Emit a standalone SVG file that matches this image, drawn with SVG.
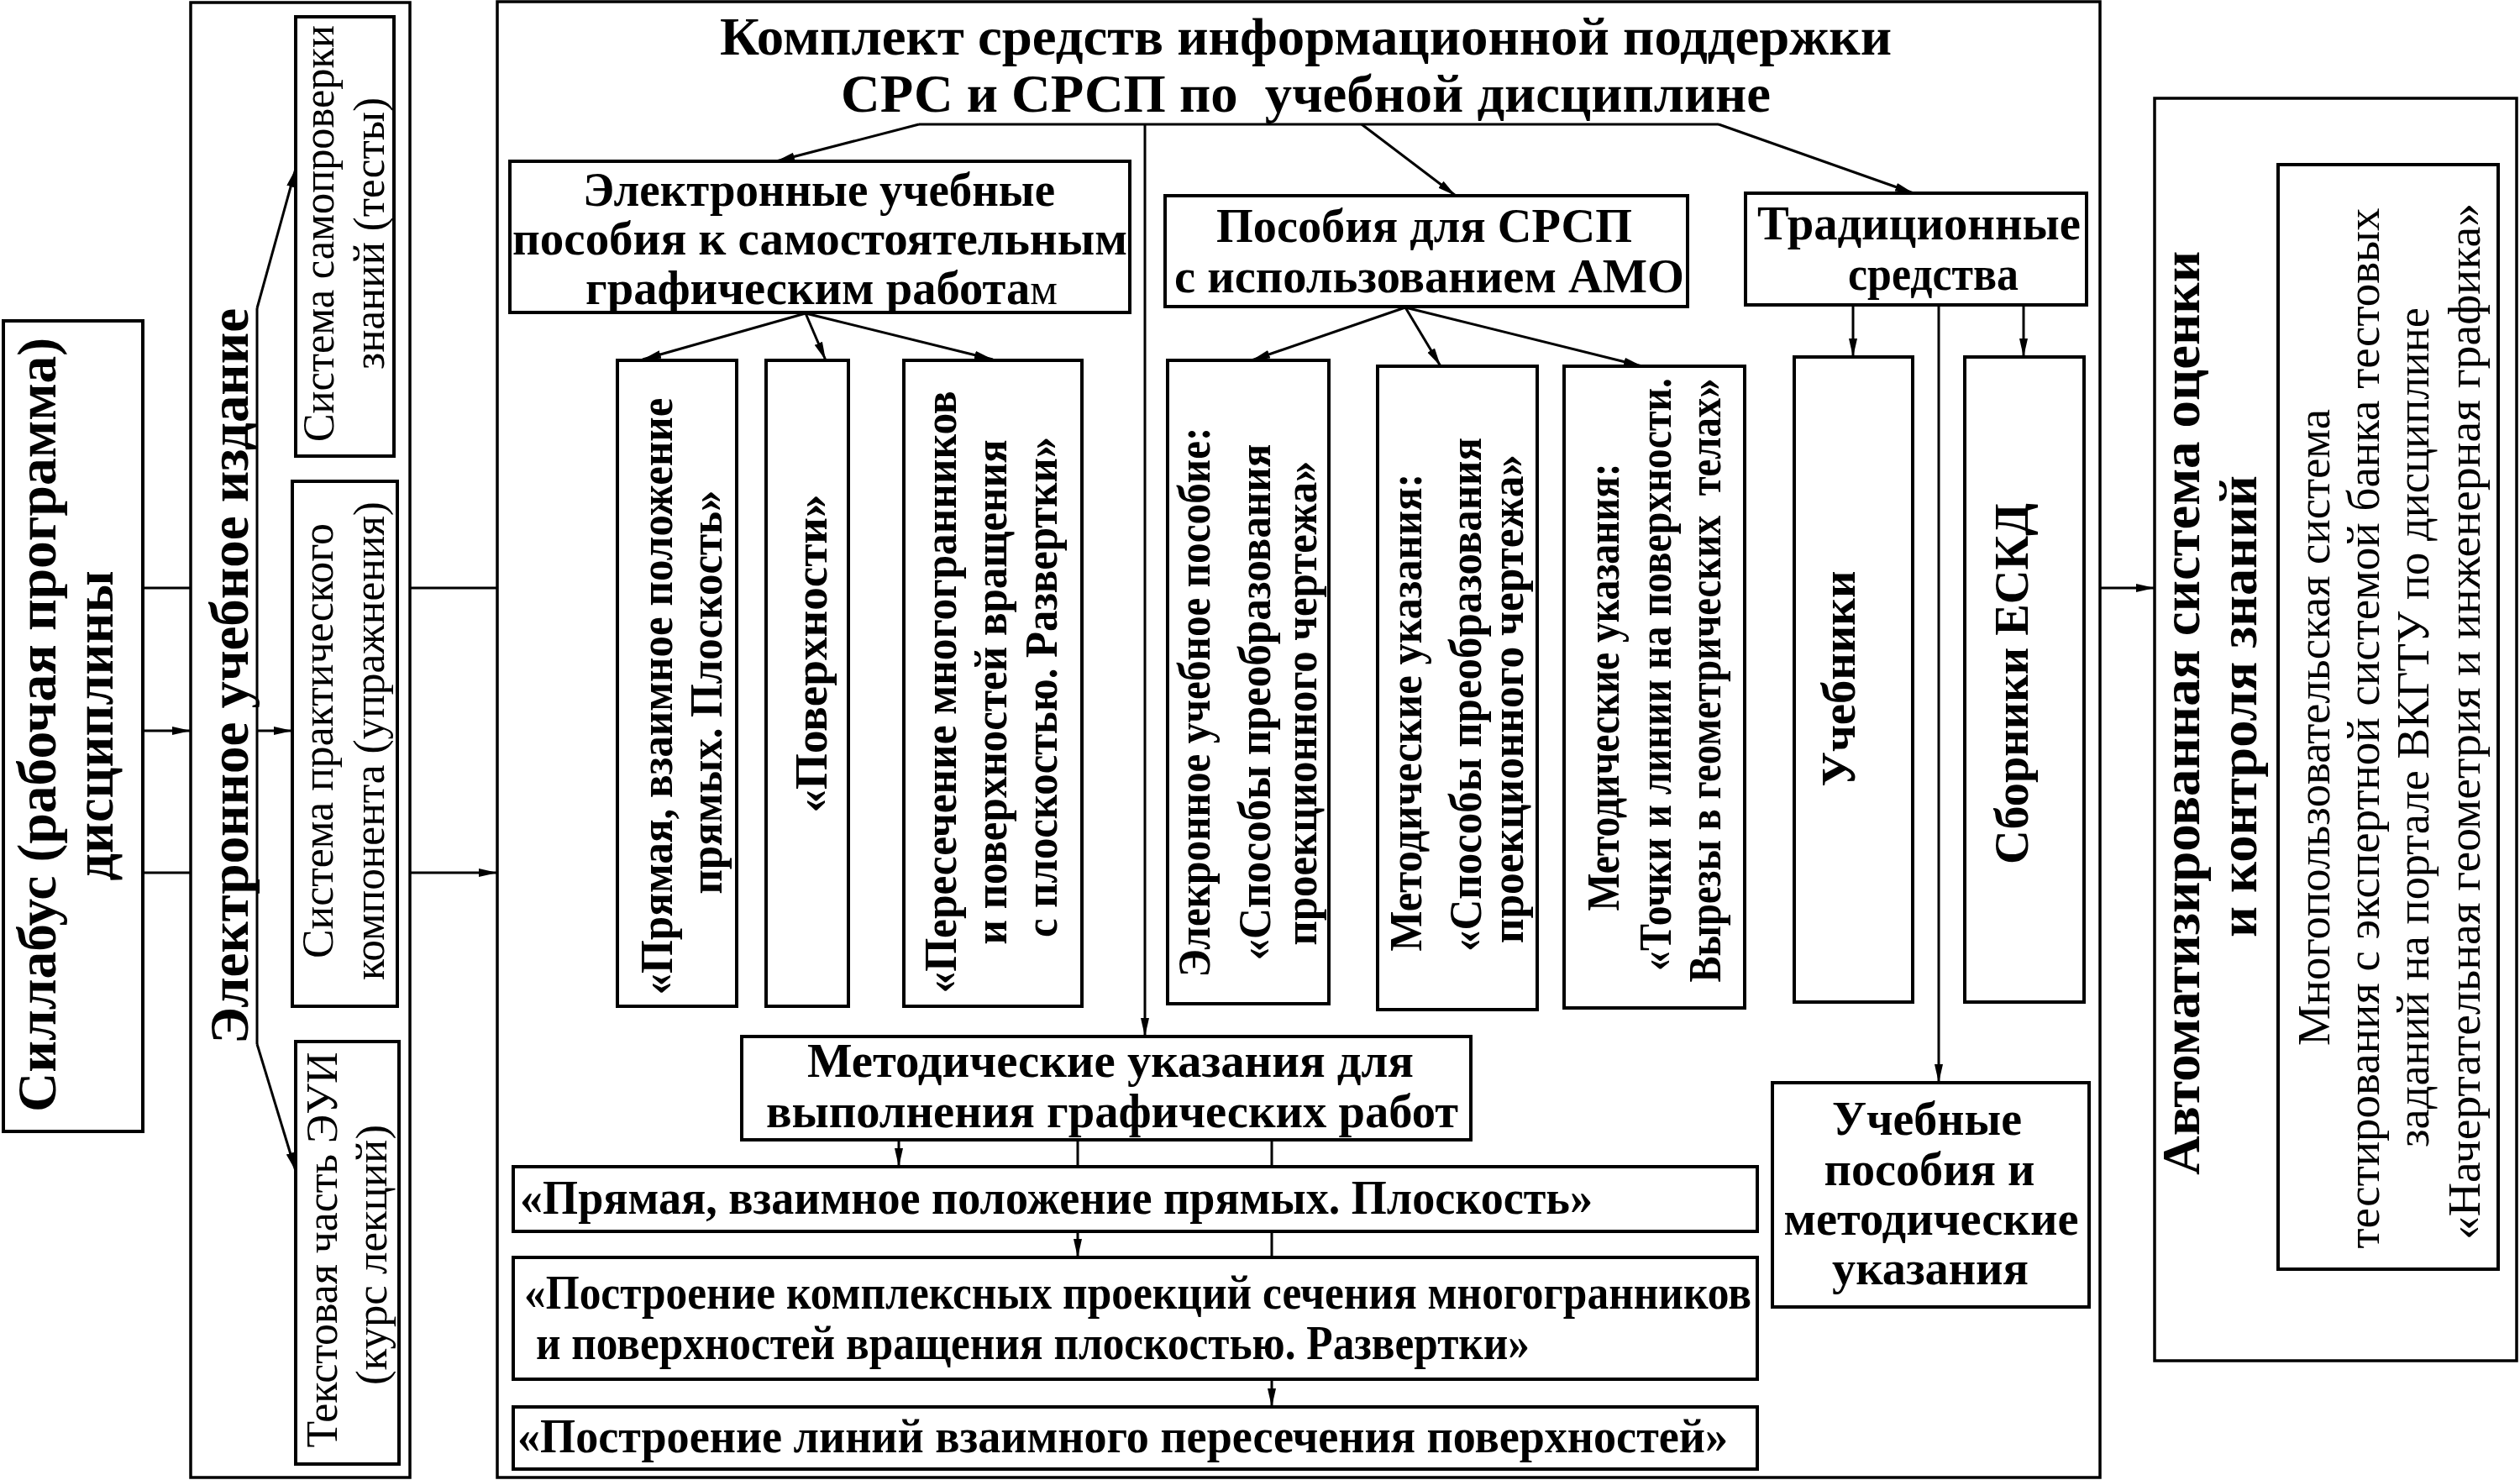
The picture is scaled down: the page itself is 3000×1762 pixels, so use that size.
<svg xmlns="http://www.w3.org/2000/svg" width="3000" height="1762" viewBox="0 0 3000 1762">
<defs>
<style>
.bx{fill:#fff;stroke:#000;stroke-width:4}
.cont{fill:#fff;stroke:#000;stroke-width:3.5}
.ln{fill:none;stroke:#000;stroke-width:3}
.ar{fill:none;stroke:#000;stroke-width:3;marker-end:url(#ah)}
text{font-family:"Liberation Serif","Times New Roman",serif;fill:#000}
.b{font-weight:bold}
.n{font-weight:normal}
.m{text-anchor:middle}
</style>
<marker id="ah" markerUnits="userSpaceOnUse" markerWidth="24" markerHeight="12" refX="22" refY="5" orient="auto">
<path d="M0,0 L22,5 L0,10 Z" fill="#000"/>
</marker>
</defs>
<rect width="3000" height="1762" fill="#fff"/>

<g id="n-syllabus">
<rect class="bx" x="4" y="382" width="166" height="965"/>
<text class="b m" font-size="66" transform="translate(66,863) rotate(-90)" textLength="922" lengthAdjust="spacingAndGlyphs">Силлабус (рабочая программа)</text>
<text class="b m" font-size="66" transform="translate(134,864) rotate(-90)" textLength="369" lengthAdjust="spacingAndGlyphs">дисциплины</text>
</g>

<g id="n-eui">
<rect class="cont" x="227" y="3" width="261" height="1756"/>
<text class="b m" font-size="66" transform="translate(295,805) rotate(-90)" textLength="876" lengthAdjust="spacingAndGlyphs">Электронное учебное издание</text>
</g>

<g id="n-main">
<rect class="cont" x="592" y="2" width="1908" height="1757"/>
<text class="b" font-size="64" x="857" y="65" textLength="1395" lengthAdjust="spacingAndGlyphs">Комплект средств информационной поддержки</text>
<text class="b" font-size="64" x="1001" y="133" textLength="1107" lengthAdjust="spacingAndGlyphs" xml:space="preserve">СРС и СРСП по  учебной дисциплине</text>
</g>

<g id="n-auto">
<rect class="cont" x="2565" y="117" width="431" height="1503"/>
<text class="b m" font-size="64" transform="translate(2618,849) rotate(-90)" textLength="1100" lengthAdjust="spacingAndGlyphs">Автоматизированная система оценки</text>
<text class="b m" font-size="64" transform="translate(2686,841) rotate(-90)" textLength="550" lengthAdjust="spacingAndGlyphs">и контроля знаний</text>
</g>

<g id="connectors">
<line class="ln" x1="170" y1="700" x2="227" y2="700"/>
<line class="ar" x1="170" y1="870" x2="227" y2="870"/>
<line class="ln" x1="170" y1="1039" x2="227" y2="1039"/>
<line class="ln" x1="488" y1="700" x2="592" y2="700"/>
<line class="ar" x1="488" y1="1039" x2="592" y2="1039"/>
<line class="ln" x1="306" y1="367" x2="306" y2="1243"/>
<line class="ar" x1="306" y1="367" x2="352" y2="201"/>
<line class="ar" x1="306" y1="1243" x2="352" y2="1394"/>
<line class="ar" x1="306" y1="870" x2="348" y2="870"/>
<line class="ar" x1="2500" y1="700" x2="2565" y2="700"/>
<line class="ln" x1="1094" y1="148" x2="2046" y2="148"/>
<line class="ar" x1="1094" y1="148" x2="924" y2="192"/>
<line class="ar" x1="1621" y1="148" x2="1733" y2="233"/>
<line class="ar" x1="2046" y1="148" x2="2278" y2="230"/>
<line class="ar" x1="1363" y1="148" x2="1363" y2="1234"/>
<line class="ar" x1="959" y1="373" x2="765" y2="428"/>
<line class="ar" x1="959" y1="373" x2="983" y2="429"/>
<line class="ar" x1="959" y1="373" x2="1182" y2="428"/>
<line class="ar" x1="1673" y1="366" x2="1490" y2="429"/>
<line class="ar" x1="1673" y1="366" x2="1715" y2="436"/>
<line class="ar" x1="1673" y1="366" x2="1955" y2="436"/>
<line class="ar" x1="2206" y1="364" x2="2206" y2="425"/>
<line class="ar" x1="2409" y1="364" x2="2409" y2="425"/>
<line class="ar" x1="2308" y1="364" x2="2308" y2="1289"/>
<line class="ar" x1="1070" y1="1357" x2="1070" y2="1389"/>
<line class="ar" x1="1283" y1="1357" x2="1283" y2="1497"/>
<line class="ar" x1="1514" y1="1357" x2="1514" y2="1675"/>
</g>

<g id="n-tests">
<rect class="bx" x="352" y="20" width="117" height="523"/>
<text class="n m" font-size="52" transform="translate(397,278) rotate(-90)" textLength="496" lengthAdjust="spacingAndGlyphs">Система самопроверки</text>
<text class="n m" font-size="52" transform="translate(457,278) rotate(-90)" textLength="324" lengthAdjust="spacingAndGlyphs">знаний (тесты)</text>
</g>

<g id="n-practice">
<rect class="bx" x="348" y="573" width="125" height="625"/>
<text class="n m" font-size="52" transform="translate(396,882) rotate(-90)" textLength="518" lengthAdjust="spacingAndGlyphs">Система практического</text>
<text class="n m" font-size="52" transform="translate(457,882) rotate(-90)" textLength="570" lengthAdjust="spacingAndGlyphs">компонента (упражнения)</text>
</g>

<g id="n-lectures">
<rect class="bx" x="352" y="1240" width="123" height="503"/>
<text class="n m" font-size="52" transform="translate(401,1488) rotate(-90)" textLength="471" lengthAdjust="spacingAndGlyphs">Текстовая часть ЭУИ</text>
<text class="n m" font-size="52" transform="translate(460,1494) rotate(-90)" textLength="310" lengthAdjust="spacingAndGlyphs">(курс лекций)</text>
</g>

<g id="n-eup">
<rect class="bx" x="607" y="192" width="738" height="180"/>
<text class="b" font-size="57" x="694" y="245" textLength="562" lengthAdjust="spacingAndGlyphs">Электронные учебные</text>
<text class="b" font-size="57" x="610" y="303" textLength="732" lengthAdjust="spacingAndGlyphs">пособия к самостоятельным</text>
<text class="b" font-size="57" x="697" y="362" textLength="562" lengthAdjust="spacingAndGlyphs">графическим работа<tspan class="n" font-size="52">м</tspan></text>
</g>

<g id="n-srsp">
<rect class="bx" x="1387" y="233" width="622" height="132"/>
<text class="b" font-size="57" x="1448" y="288" textLength="495" lengthAdjust="spacingAndGlyphs">Пособия для СРСП</text>
<text class="b" font-size="57" x="1398" y="348" textLength="607" lengthAdjust="spacingAndGlyphs">с использованием АМО</text>
</g>

<g id="n-trad">
<rect class="bx" x="2078" y="230" width="406" height="133"/>
<text class="b" font-size="57" x="2092" y="285" textLength="385" lengthAdjust="spacingAndGlyphs">Традиционные</text>
<text class="b" font-size="57" x="2200" y="345" textLength="203" lengthAdjust="spacingAndGlyphs">средства</text>
</g>

<g id="n-a1">
<rect class="bx" x="735" y="429" width="142" height="769"/>
<text class="b m" font-size="54" transform="translate(800,829) rotate(-90)" textLength="711" lengthAdjust="spacingAndGlyphs">«Прямая, взаимное положение</text>
<text class="b m" font-size="54" transform="translate(859,824) rotate(-90)" textLength="481" lengthAdjust="spacingAndGlyphs">прямых. Плоскость»</text>
</g>

<g id="n-a2">
<rect class="bx" x="912" y="429" width="98" height="769"/>
<text class="b m" font-size="54" transform="translate(984,778) rotate(-90)" textLength="379" lengthAdjust="spacingAndGlyphs">«Поверхности»</text>
</g>

<g id="n-a3">
<rect class="bx" x="1076" y="429" width="212" height="769"/>
<text class="b m" font-size="54" transform="translate(1138,824) rotate(-90)" textLength="717" lengthAdjust="spacingAndGlyphs">«Пересечение многогранников</text>
<text class="b m" font-size="54" transform="translate(1198,824) rotate(-90)" textLength="601" lengthAdjust="spacingAndGlyphs">и поверхностей вращения</text>
<text class="b m" font-size="54" transform="translate(1258,818) rotate(-90)" textLength="596" lengthAdjust="spacingAndGlyphs">с плоскостью. Развертки»</text>
</g>

<g id="n-b1">
<rect class="bx" x="1390" y="429" width="192" height="766"/>
<text class="b m" font-size="54" transform="translate(1440,836) rotate(-90)" textLength="655" lengthAdjust="spacingAndGlyphs">Элекронное учебное пособие:</text>
<text class="b m" font-size="54" transform="translate(1512,836) rotate(-90)" textLength="615" lengthAdjust="spacingAndGlyphs">«Способы преобразования</text>
<text class="b m" font-size="54" transform="translate(1567,837) rotate(-90)" textLength="577" lengthAdjust="spacingAndGlyphs">проекционного чертежа»</text>
</g>

<g id="n-b2">
<rect class="bx" x="1640" y="436" width="190" height="766"/>
<text class="b m" font-size="54" transform="translate(1692,848) rotate(-90)" textLength="569" lengthAdjust="spacingAndGlyphs">Методические указания:</text>
<text class="b m" font-size="54" transform="translate(1763,827) rotate(-90)" textLength="612" lengthAdjust="spacingAndGlyphs">«Способы преобразования</text>
<text class="b m" font-size="54" transform="translate(1813,832) rotate(-90)" textLength="582" lengthAdjust="spacingAndGlyphs">проекционного чертежа»</text>
</g>

<g id="n-b3">
<rect class="bx" x="1862" y="436" width="215" height="764"/>
<text class="b m" font-size="54" transform="translate(1927,818) rotate(-90)" textLength="533" lengthAdjust="spacingAndGlyphs">Методические указания:</text>
<text class="b m" font-size="54" transform="translate(1989,803) rotate(-90)" textLength="706" lengthAdjust="spacingAndGlyphs">«Точки и линии на поверхности.</text>
<text class="b m" font-size="54" transform="translate(2048,810) rotate(-90)" textLength="719" lengthAdjust="spacingAndGlyphs" xml:space="preserve">Вырезы в геометрических  телах»</text>
</g>

<g id="n-textbooks">
<rect class="bx" x="2136" y="425" width="141" height="768"/>
<text class="b m" font-size="56" transform="translate(2208,808) rotate(-90)" textLength="257" lengthAdjust="spacingAndGlyphs">Учебники</text>
</g>

<g id="n-eskd">
<rect class="bx" x="2339" y="425" width="142" height="768"/>
<text class="b m" font-size="56" transform="translate(2414,814) rotate(-90)" textLength="430" lengthAdjust="spacingAndGlyphs">Сборники ЕСКД</text>
</g>

<g id="n-manuals">
<rect class="bx" x="2110" y="1289" width="377" height="267"/>
<text class="b m" font-size="56" x="2294" y="1351" textLength="226" lengthAdjust="spacingAndGlyphs">Учебные</text>
<text class="b m" font-size="56" x="2297" y="1411" textLength="251" lengthAdjust="spacingAndGlyphs">пособия и</text>
<text class="b m" font-size="56" x="2299" y="1470" textLength="351" lengthAdjust="spacingAndGlyphs">методические</text>
<text class="b m" font-size="56" x="2298" y="1529" textLength="234" lengthAdjust="spacingAndGlyphs">указания</text>
</g>

<g id="n-mu">
<rect class="bx" x="883" y="1234" width="868" height="123"/>
<text class="b" font-size="57" x="961" y="1282" textLength="722" lengthAdjust="spacingAndGlyphs">Методические указания для</text>
<text class="b" font-size="57" x="912" y="1342" textLength="824" lengthAdjust="spacingAndGlyphs">выполнения графических работ</text>
</g>

<g id="n-h1">
<rect class="bx" x="611" y="1389" width="1481" height="77"/>
<text class="b" font-size="56" x="619" y="1445" textLength="1277" lengthAdjust="spacingAndGlyphs">«Прямая, взаимное положение прямых. Плоскость»</text>
</g>

<g id="n-h2">
<rect class="bx" x="611" y="1497" width="1481" height="145"/>
<text class="b" font-size="56" x="624" y="1558" textLength="1461" lengthAdjust="spacingAndGlyphs">«Построение комплексных проекций сечения многогранников</text>
<text class="b" font-size="56" x="638" y="1618" textLength="1183" lengthAdjust="spacingAndGlyphs">и поверхностей вращения плоскостью. Развертки»</text>
</g>

<g id="n-h3">
<rect class="bx" x="611" y="1675" width="1481" height="74"/>
<text class="b" font-size="56" x="616" y="1729" textLength="1441" lengthAdjust="spacingAndGlyphs">«Построение линий взаимного пересечения поверхностей»</text>
</g>

<g id="n-portal">
<rect class="bx" x="2712" y="196" width="262" height="1315"/>
<text class="n m" font-size="54" transform="translate(2773,866) rotate(-90)" textLength="758" lengthAdjust="spacingAndGlyphs">Многопользовательская система</text>
<text class="n m" font-size="54" transform="translate(2832,867) rotate(-90)" textLength="1239" lengthAdjust="spacingAndGlyphs">тестирования с экспертной системой банка тестовых</text>
<text class="n m" font-size="54" transform="translate(2891,866) rotate(-90)" textLength="1000" lengthAdjust="spacingAndGlyphs">заданий на портале ВКГТУ по дисциплине</text>
<text class="n m" font-size="54" transform="translate(2952,859) rotate(-90)" textLength="1234" lengthAdjust="spacingAndGlyphs">«Начертательная геометрия и инженерная графика»</text>
</g>
</svg>
